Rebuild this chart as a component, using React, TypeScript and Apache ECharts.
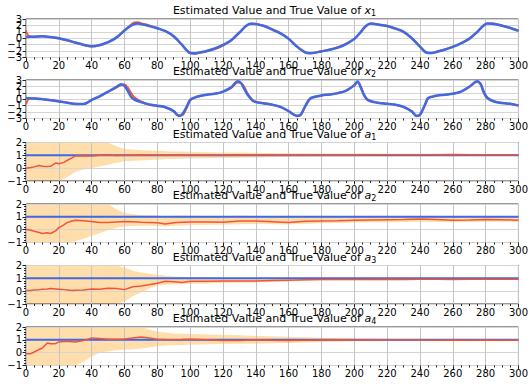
import React, { useEffect, useRef } from 'react';
import * as echarts from 'echarts';

// ---- x1 ----
const T_X1 = [0,2,5,10,15,20,25,30,35,40,45,50,55,60,63,66,68,70,75,80,85,90,95,100,103,106,110,115,120,125,130,134,137,140,145,150,155,160,165,170,173,176,180,185,190,195,200,204,207,210,215,220,225,230,235,240,244,247,250,255,260,265,270,275,278,281,284,290,295,300];
const X1_TRUE = [0.2,0.22,0.25,0.3,0.2,0.0,-0.3,-0.65,-1.0,-1.25,-1.05,-0.6,0.1,1.2,1.8,2.2,2.3,2.2,1.9,1.55,1.1,0.3,-1.0,-2.3,-2.35,-2.2,-2.0,-1.6,-1.05,-0.3,0.9,1.9,2.25,2.2,1.9,1.35,0.75,-0.1,-1.3,-2.2,-2.35,-2.25,-2.05,-1.8,-1.45,-0.9,-0.1,1.0,1.9,2.3,2.1,1.9,1.5,1.0,0.0,-1.3,-2.25,-2.3,-2.15,-1.8,-1.35,-0.8,-0.1,1.0,1.8,2.3,2.25,1.95,1.6,1.15];
const X1_EST = [1.2,0.3,0.25,0.3,0.15,-0.05,-0.35,-0.7,-1.05,-1.3,-1.1,-0.65,0.05,1.2,1.9,2.45,2.5,2.35,2.0,1.6,1.1,0.25,-1.05,-2.3,-2.4,-2.25,-2.05,-1.7,-1.15,-0.35,0.85,1.9,2.3,2.25,1.95,1.4,0.8,-0.05,-1.25,-2.15,-2.35,-2.25,-2.0,-1.75,-1.4,-0.85,-0.1,0.95,1.85,2.3,2.15,1.95,1.55,1.05,0.05,-1.25,-2.2,-2.3,-2.1,-1.75,-1.3,-0.75,-0.05,1.05,1.85,2.3,2.3,2.0,1.65,1.2];

// ---- x2 ----
const T_X2 = [0,2,5,10,15,20,25,30,35,40,45,50,55,58,60,62,64,66,70,75,80,85,90,93,95,98,100,103,106,110,115,120,125,129,131,133,135,138,140,145,150,155,160,165,167,170,173,176,180,185,190,195,200,202,204,206,208,212,215,220,225,230,235,238,240,243,245,248,250,255,260,265,270,275,277,279,281,285,290,295,300];
const X2_TRUE = [0.2,0.15,0.1,0.0,-0.15,-0.35,-0.55,-0.75,-0.75,-0.1,0.5,1.2,1.9,2.35,2.1,1.3,0.4,-0.05,-0.45,-0.8,-1.0,-1.25,-1.85,-2.6,-2.4,-1.1,-0.1,0.3,0.5,0.7,0.85,1.2,1.85,2.8,2.5,1.6,0.7,-0.2,-0.45,-0.65,-0.85,-1.2,-1.85,-2.6,-2.5,-1.1,0.1,0.4,0.6,0.75,0.95,1.35,2.2,2.75,1.8,0.6,-0.1,-0.45,-0.6,-0.7,-0.85,-1.2,-1.9,-2.6,-2.4,-0.85,0.2,0.45,0.55,0.7,0.85,1.2,1.95,2.8,2.3,1.0,0.2,-0.35,-0.6,-0.7,-1.0];
const X2_EST = [-0.8,0.1,0.15,0.05,-0.1,-0.3,-0.5,-0.7,-0.75,-0.15,0.45,1.15,1.8,2.2,2.3,1.8,1.0,0.3,-0.35,-0.85,-1.05,-1.3,-1.9,-2.5,-2.5,-1.3,-0.2,0.25,0.5,0.7,0.85,1.15,1.75,2.6,2.55,1.9,0.9,-0.1,-0.4,-0.6,-0.85,-1.2,-1.85,-2.55,-2.5,-1.2,0.0,0.35,0.6,0.75,0.95,1.3,2.15,2.7,1.9,0.7,0.0,-0.4,-0.55,-0.7,-0.85,-1.2,-1.85,-2.55,-2.45,-0.95,0.1,0.4,0.55,0.7,0.85,1.15,1.9,2.75,2.4,1.15,0.3,-0.3,-0.55,-0.7,-0.95];

// ---- parameters a1..a4 ----
const T_A = [0,3,5,8,10,13,15,18,20,23,25,28,30,35,40,45,50,55,60,65,70,75,80,85,90,95,100,110,120,130,140,150,160,170,180,190,200,210,220,230,240,250,260,270,280,290,300];
const A_TRUE = [1, 1, 1, 1];

const A1_EST = [0.0,0.05,0.1,0.2,0.15,0.13,0.15,0.4,0.35,0.45,0.6,0.8,0.95,0.97,0.95,1.0,1.02,0.98,1.0,1.0,1.02,1.0,1.0,1.01,1.0,1.0,1.01,1.0,1.02,1.05,1.03,1.02,1.03,1.03,1.02,1.03,1.03,1.04,1.05,1.05,1.05,1.05,1.06,1.05,1.05,1.05,1.05];
const A1_UP = [4,4,4,4,4,4,4,4,4,4,4,4,4,4,4,4,2.05,1.7,1.5,1.45,1.4,1.37,1.35,1.32,1.3,1.3,1.28,1.25,1.23,1.22,1.2,1.18,1.17,1.16,1.15,1.15,1.14,1.14,1.13,1.13,1.12,1.12,1.12,1.12,1.11,1.11,1.11];
const A1_LO = [-3,-3,-3,-3,-3,-3,-3,-3,-1.1,-0.85,-0.7,-0.45,-0.3,-0.1,0.0,0.15,0.27,0.42,0.53,0.57,0.6,0.63,0.66,0.69,0.71,0.73,0.75,0.78,0.8,0.82,0.84,0.86,0.88,0.89,0.9,0.91,0.91,0.92,0.92,0.93,0.93,0.94,0.94,0.94,0.95,0.95,0.95];

const A2_EST = [0.03,-0.05,-0.13,-0.22,-0.3,-0.24,-0.3,-0.1,0.16,0.38,0.55,0.68,0.74,0.7,0.63,0.55,0.55,0.6,0.63,0.62,0.58,0.56,0.53,0.45,0.53,0.58,0.6,0.6,0.58,0.68,0.68,0.62,0.56,0.65,0.68,0.7,0.74,0.76,0.78,0.8,0.84,0.8,0.74,0.76,0.8,0.78,0.74];
const A2_UP = [4,4,4,4,4,4,4,4,4,4,4,4,4,4,4,4,2.2,1.6,1.3,1.2,1.15,1.12,1.1,1.05,1.08,1.08,1.08,1.06,1.04,1.08,1.06,1.0,0.95,0.98,0.98,0.97,0.98,0.98,0.98,0.98,1.0,0.96,0.92,0.93,0.95,0.94,0.9];
const A2_LO = [-3,-3,-3,-3,-3,-3,-3,-3,-3,-3,-3,-1.05,-0.9,-0.7,-0.5,-0.25,-0.05,0.15,0.25,0.28,0.3,0.3,0.3,0.25,0.3,0.33,0.35,0.38,0.38,0.42,0.45,0.42,0.4,0.45,0.5,0.52,0.55,0.57,0.58,0.6,0.62,0.6,0.58,0.6,0.62,0.62,0.6];

const A3_EST = [0.05,0.05,0.1,0.12,0.15,0.17,0.2,0.17,0.15,0.12,0.1,0.05,0.07,0.1,0.17,0.15,0.22,0.2,0.12,0.35,0.41,0.5,0.62,0.78,0.73,0.67,0.78,0.78,0.8,0.8,0.8,0.84,0.86,0.88,0.9,0.9,0.91,0.91,0.92,0.91,0.92,0.92,0.91,0.92,0.92,0.92,0.92];
const A3_UP = [4,4,4,4,4,4,4,4,4,4,4,4,4,4,4,4,4,2.0,1.85,1.6,1.45,1.35,1.3,1.2,1.15,1.12,1.1,1.08,1.05,1.03,1.0,1.0,0.98,0.97,0.97,0.97,0.97,0.97,0.97,0.97,0.97,0.97,0.97,0.97,0.97,0.97,0.97];
const A3_LO = [-3,-3,-3,-3,-3,-3,-3,-3,-3,-3,-3,-3,-3,-3,-3,-3,-3,-1.1,-0.8,-0.4,-0.1,0.2,0.45,0.5,0.52,0.54,0.56,0.6,0.63,0.65,0.67,0.72,0.76,0.8,0.83,0.85,0.85,0.86,0.86,0.86,0.87,0.87,0.87,0.87,0.87,0.88,0.88];

const A4_EST = [-0.08,-0.08,0.05,0.25,0.36,0.75,0.7,0.7,0.84,0.87,0.89,0.86,0.84,0.94,1.15,1.1,1.05,1.05,1.07,1.15,1.23,1.15,1.05,1.02,1.0,1.02,1.05,1.0,0.95,0.95,1.0,0.97,0.95,0.97,0.99,1.0,0.98,0.99,0.98,0.99,0.98,0.97,0.98,0.97,0.98,0.97,0.96];
const A4_UP = [4,4,4,4,4,4,4,4,4,4,4,4,4,4,4,4,4,4,4,4,2.0,1.8,1.65,1.57,1.5,1.47,1.45,1.42,1.4,1.35,1.3,1.27,1.25,1.2,1.15,1.12,1.1,1.08,1.07,1.06,1.06,1.05,1.05,1.05,1.04,1.04,1.04];
const A4_LO = [-3,-3,-3,-3,-3,-3,-3,-3,-3,-3,-3,-3,-1.1,-0.7,-0.3,0.0,0.12,0.18,0.22,0.27,0.32,0.4,0.5,0.55,0.58,0.6,0.62,0.65,0.67,0.69,0.7,0.73,0.76,0.8,0.83,0.86,0.88,0.89,0.9,0.9,0.91,0.91,0.91,0.92,0.92,0.92,0.92];

const TITLE_VARS = ['x', 'x', 'a', 'a', 'a', 'a'];
const TITLE_SUBS = ['1', '2', '1', '2', '3', '4'];
const X_MIN = 0, X_MAX = 300, X_STEP = 20;
const YX_TICKS = [-3, -2, -1, 0, 1, 2, 3];

const RED = '#f0553a';
const BLUE = '#4169e1';
const BAND = '#ffdeab';
const FONT = 'DejaVu Sans';

const TOPS = [19, 80, 142.5, 204, 265.5, 327];
const H = 38.5;
const LEFT = 26;
const RIGHT = 8;

export default function App() {
  const ref = useRef<HTMLDivElement>(null);
  useEffect(() => {
    document.body.style.margin = '0';
    const chart = echarts.init(ref.current!, null, { renderer: 'svg' });
    const fmt = (v: number) => String(v).replace('-', '\u2212');
    const grids = TOPS.map((t) => ({
      left: LEFT, right: RIGHT, top: t, height: H,
      show: true, borderColor: '#333', borderWidth: 1, containLabel: false,
    }));
    const xAxes = TOPS.map((_, i) => ({
      type: 'value', gridIndex: i, min: X_MIN, max: X_MAX, interval: X_STEP,
      position: 'bottom',
      axisLine: { show: false, onZero: false },
      axisTick: { show: true, inside: false, length: 3.5, lineStyle: { color: '#222' } },
      minorTick: { show: true, splitNumber: 4, length: 2, lineStyle: { color: '#222' } },
      splitLine: { show: true, lineStyle: { color: '#c4c4c4', width: 1 } },
      axisLabel: { fontSize: 10, fontFamily: FONT, color: '#000', margin: 3, formatter: fmt },
    }));
    const yAxes = TOPS.map((_, i) => {
      const isX = i < 2;
      return {
        type: 'value', gridIndex: i,
        min: isX ? -3 : -1, max: isX ? 3 : 2, interval: 1,
        position: 'left',
        axisLine: { show: false, onZero: false },
        axisTick: { show: true, inside: false, length: 3.5, interval: 0, lineStyle: { color: '#222' } },
        minorTick: { show: !isX, splitNumber: 5, length: 2, lineStyle: { color: '#222' } },
        splitLine: { show: true, interval: 0, lineStyle: { color: '#d4d4d4', width: 1 } },
        axisLabel: {
          show: !isX,
          fontSize: 10, fontFamily: FONT, color: '#000', margin: 4, formatter: fmt,
        },
      };
    });

    const series: any[] = [];
    const xPanels = [
      { t: T_X1, tr: X1_TRUE, es: X1_EST },
      { t: T_X2, tr: X2_TRUE, es: X2_EST },
    ];
    xPanels.forEach((p, i) => {
      series.push({
        type: 'line', xAxisIndex: i, yAxisIndex: i, showSymbol: false, smooth: 0.35,
        data: p.t.map((t, k) => [t, p.es[k]]),
        lineStyle: { color: RED, width: 2 }, z: 2, silent: true,
      });
      series.push({
        type: 'line', xAxisIndex: i, yAxisIndex: i, showSymbol: false, smooth: 0.35,
        data: p.t.map((t, k) => [t, p.tr[k]]),
        lineStyle: { color: BLUE, width: 2.5 }, z: 3, silent: true,
      });
    });

    const aPanels = [
      { es: A1_EST, up: A1_UP, lo: A1_LO },
      { es: A2_EST, up: A2_UP, lo: A2_LO },
      { es: A3_EST, up: A3_UP, lo: A3_LO },
      { es: A4_EST, up: A4_UP, lo: A4_LO },
    ];
    aPanels.forEach((p, j) => {
      const i = j + 2;
      const ymin = -1, ymax = 2;
      series.push({
        type: 'custom', xAxisIndex: i, yAxisIndex: i, z: -1, silent: true,
        data: [[0, 0]],
        renderItem: (_params: any, api: any) => {
          const clamp = (v: number) => Math.max(ymin, Math.min(ymax, v));
          const pts: number[][] = [];
          T_A.forEach((t, k) => pts.push(api.coord([t, clamp(p.up[k])])));
          for (let k = T_A.length - 1; k >= 0; k--) pts.push(api.coord([T_A[k], clamp(p.lo[k])]));
          return { type: 'polygon', shape: { points: pts }, style: { fill: BAND } };
        },
      });
      series.push({
        type: 'line', xAxisIndex: i, yAxisIndex: i, showSymbol: false,
        data: [[X_MIN, A_TRUE[j]], [X_MAX, A_TRUE[j]]],
        lineStyle: { color: BLUE, width: 2 }, z: 2, silent: true,
      });
      series.push({
        type: 'line', xAxisIndex: i, yAxisIndex: i, showSymbol: false,
        data: T_A.map((t, k) => [t, p.es[k]]),
        lineStyle: { color: RED, width: 1.5 }, z: 3, silent: true,
      });
    });

    const titles: any[] = TOPS.map((top, i) => ({
      type: 'text',
      x: LEFT + (531 - LEFT - RIGHT) / 2,
      y: top - 15.5,
      style: {
        text: `Estimated Value and True Value of {i|${TITLE_VARS[i]}}{s|${TITLE_SUBS[i]}}`,
        fontSize: 11, fontFamily: FONT, fill: '#000',
        align: 'center', verticalAlign: 'top',
        rich: {
          i: { fontSize: 11, fontFamily: FONT, fontStyle: 'italic', fill: '#000' },
          s: { fontSize: 8, fontFamily: FONT, fill: '#000', verticalAlign: 'bottom', padding: [6, 0, 0, 0] },
        },
      },
    }));

    chart.setOption({
      animation: false,
      backgroundColor: '#fff',
      grid: grids,
      xAxis: xAxes,
      yAxis: yAxes,
      series,
    });

    // y tick labels of the two state panels (all seven, overlapping as in the reference)
    const yLabels: any[] = [];
    [0, 1].forEach((i) => {
      YX_TICKS.forEach((v) => {
        const py = chart.convertToPixel({ yAxisIndex: i }, v) as number;
        yLabels.push({
          type: 'text', x: LEFT - 4, y: py,
          style: { text: fmt(v), fontSize: 10, fontFamily: FONT, fill: '#000', align: 'right', verticalAlign: 'middle' },
        });
      });
    });
    chart.setOption({ graphic: [...titles, ...yLabels] });

    return () => chart.dispose();
  }, []);
  return <div ref={ref} style={{ width: 531, height: 384, position: 'absolute', left: 0, top: 0 }} />;
}
